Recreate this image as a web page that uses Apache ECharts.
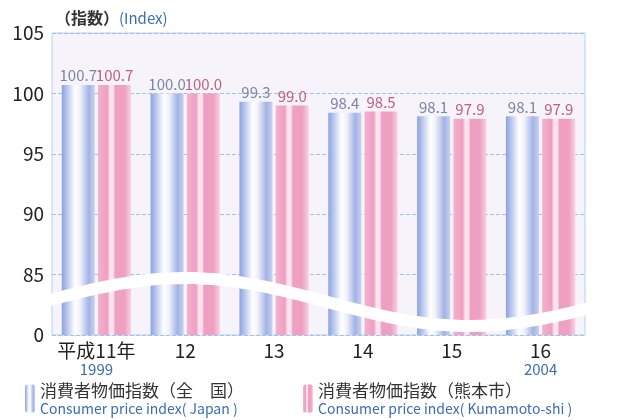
<!DOCTYPE html>
<html>
<head>
<meta charset="utf-8">
<script src="https://cdn.jsdelivr.net/npm/echarts@6/dist/echarts.min.js"></script>
<style>
  html, body { margin: 0; padding: 0; background: #fff; }
  #main { width: 617px; height: 420px; }
</style>
</head>
<body>
<div id="main"></div>
<script>
// 年次 (平成11年〜16年)
var years = ['平成11年', '12', '13', '14', '15', '16'];
var westernYears = ['1999', '', '', '', '', '2004'];
// 消費者物価指数
var japanIndex = [100.7, 100.0, 99.3, 98.4, 98.1, 98.1];
var kumamotoIndex = [100.7, 100.0, 99.0, 98.5, 97.9, 97.9];
// 縦軸 (80 の位置を「0」と表示する省略軸)
var yTicks = [80, 85, 90, 95, 100, 105];

var FONT = '"Noto Sans CJK JP", "Noto Sans", sans-serif';
var gridBox = { left: 52, right: 32, top: 33, bottom: 85 };

var blueFill = new echarts.graphic.LinearGradient(0, 0, 1, 0, [
    {offset: 0, color: '#8ba2e0'},
    {offset: 0.12, color: '#adbdea'},
    {offset: 0.4, color: '#ffffff'},
    {offset: 0.55, color: '#f1f2fa'},
    {offset: 0.82, color: '#a3b3e6'},
    {offset: 1, color: '#c8d1f0'}
]);
var pinkFill = new echarts.graphic.LinearGradient(0, 0, 1, 0, [
    {offset: 0, color: '#f3b2cd'},
    {offset: 0.28, color: '#ef9fc1'},
    {offset: 0.36, color: '#fbe4ee'},
    {offset: 0.46, color: '#fbe4ee'},
    {offset: 0.52, color: '#ef9fc1'},
    {offset: 0.8, color: '#ef9fc1'},
    {offset: 1, color: '#f8d3e2'}
]);

var myChart = echarts.init(document.getElementById('main'));

var legendRich = {
    a: { fontSize: 17, color: '#333', fontFamily: FONT, lineHeight: 20 },
    b: { fontSize: 14, color: '#3b6db4', fontFamily: FONT, lineHeight: 16 }
};

var option = {
    backgroundColor: '#ffffff',
    textStyle: { fontFamily: FONT },
    title: {
        left: 50,
        top: 5,
        text: '{a|（指数）}{b|(Index)}',
        textStyle: {
            rich: {
                a: { fontSize: 16, color: '#333', fontFamily: FONT, fontWeight: 'bold' },
                b: { fontSize: 15, color: '#3b6db4', fontFamily: FONT, fontWeight: 'normal' }
            }
        }
    },
    legend: [
        {
            left: 20,
            top: 377,
            itemWidth: 10,
            itemHeight: 28,
            selectedMode: false,
            data: ['japan'],
            formatter: function () {
                return '{a|消費者物価指数（全　国）}\n{b|Consumer price index( Japan )}';
            },
            textStyle: { rich: legendRich }
        },
        {
            left: 298,
            top: 377,
            itemWidth: 10,
            itemHeight: 28,
            selectedMode: false,
            data: ['kumamoto'],
            formatter: function () {
                return '{a|消費者物価指数（熊本市）}\n{b|Consumer price index( Kumamoto-shi )}';
            },
            textStyle: { rich: legendRich }
        }
    ],
    grid: {
        left: gridBox.left,
        right: gridBox.right,
        top: gridBox.top,
        bottom: gridBox.bottom,
        show: true,
        backgroundColor: '#f6f4fa',
        borderColor: '#b5d2ee',
        borderWidth: 1
    },
    xAxis: {
        type: 'category',
        data: years,
        axisLine: { show: false },
        axisTick: { show: false },
        axisLabel: {
            interval: 0,
            margin: 6,
            color: '#222',
            fontSize: 19,
            fontFamily: FONT,
            formatter: function (v, i) {
                return westernYears[i] ? v + '\n{y|' + westernYears[i] + '}' : v;
            },
            rich: {
                y: { fontSize: 15, color: '#3b6db4', fontFamily: FONT, lineHeight: 18 }
            }
        }
    },
    yAxis: {
        type: 'value',
        min: yTicks[0],
        max: yTicks[yTicks.length - 1],
        interval: 5,
        axisLine: { show: false },
        axisTick: { show: false },
        axisLabel: {
            margin: 8,
            color: '#222',
            fontSize: 19,
            fontFamily: FONT,
            formatter: function (v) { return v === yTicks[0] ? '0' : String(v); }
        },
        splitLine: { lineStyle: { color: '#9ec3e6', type: 'dashed', width: 1 } }
    },
    series: [
        {
            name: 'japan',
            type: 'bar',
            barWidth: 33,
            barGap: '10%',
            data: japanIndex,
            itemStyle: { color: blueFill },
            label: {
                show: true,
                position: 'top',
                distance: 2,
                color: '#7c84a6',
                fontSize: 15,
                fontFamily: FONT,
                formatter: function (p) { return p.value.toFixed(1); }
            },
            z: 2
        },
        {
            name: 'kumamoto',
            type: 'bar',
            barWidth: 33,
            data: kumamotoIndex,
            itemStyle: { color: pinkFill },
            label: {
                show: true,
                position: 'top',
                distance: 2,
                color: '#c0607f',
                fontSize: 15,
                fontFamily: FONT,
                formatter: function (p) { return p.value.toFixed(1); }
            },
            z: 2
        }
    ]
};

myChart.setOption(option);

// 省略線 (白い波形) をグリッドの幅に合わせて描く
function drawBreak() {
    var w = myChart.getWidth() - gridBox.left - gridBox.right;
    var pts = [];
    for (var i = 0; i <= 60; i++) {
        var x = gridBox.left - 2 + (w + 4) * i / 60;
        var y = 302 - 24 * Math.cos(2 * Math.PI * (x - 185) / 570);
        pts.push([x, y]);
    }
    myChart.setOption({
        graphic: [{
            type: 'polyline',
            z: 50,
            shape: { points: pts, smooth: 0.3 },
            style: { stroke: '#ffffff', lineWidth: 12, fill: null }
        }]
    });
}
drawBreak();
window.onresize = myChart.resize;
</script>
</body>
</html>
